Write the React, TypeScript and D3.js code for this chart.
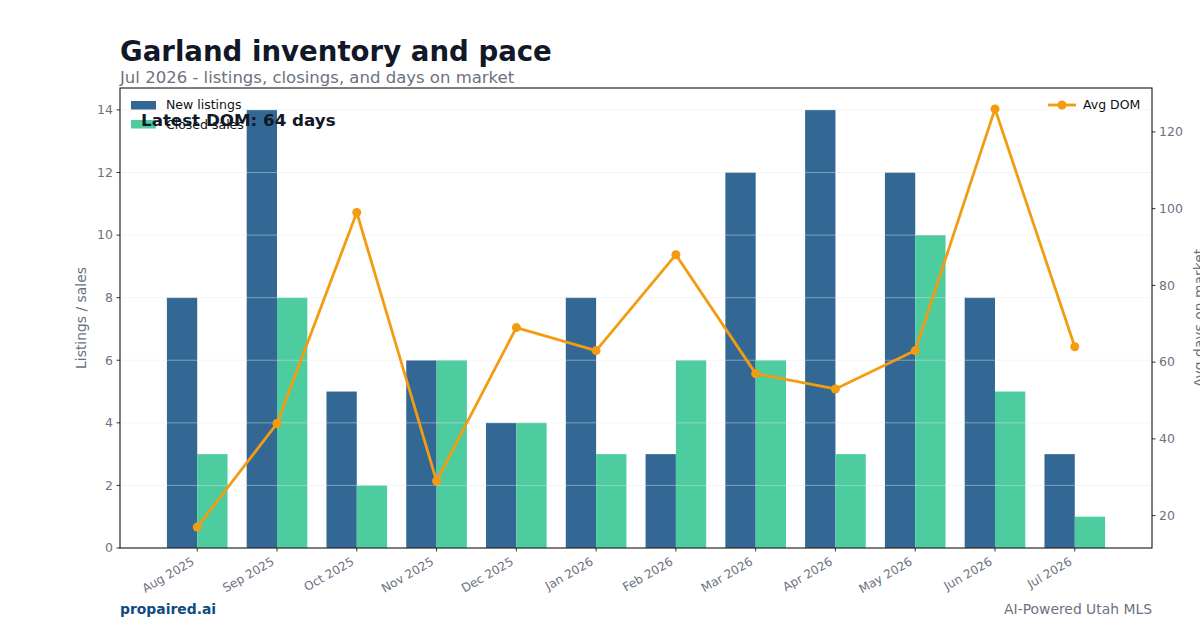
import * as d3 from "d3";

const months = [
  "Aug 2025", "Sep 2025", "Oct 2025", "Nov 2025", "Dec 2025", "Jan 2026",
  "Feb 2026", "Mar 2026", "Apr 2026", "May 2026", "Jun 2026", "Jul 2026",
];
const newListings = [8, 14, 5, 6, 4, 8, 3, 12, 14, 12, 8, 3];
const closedSales = [3, 8, 2, 6, 4, 3, 6, 6, 3, 10, 5, 1];
const avgDom = [17, 44, 99, 29, 69, 63, 88, 57, 53, 63, 126, 64];
const leftTicks = [0, 2, 4, 6, 8, 10, 12, 14];
const rightTicks = [20, 40, 60, 80, 100, 120];

const W = 1200;
const H = 630;
const left = 120;
const right = 1152;
const top = 88;
const bottom = 548;
const barW = 0.38;

const font = "'DejaVu Sans', sans-serif";
const gray = "#6b7280";
const blue = "#336895";
const green = "#4ccc9f";
const orange = "#f39c12";

export default function App() {
  // index scale with matplotlib-style 5% padding around the bars
  const span = months.length - 1 + 2 * barW;
  const pad = span * 0.05;
  const x = d3.scaleLinear()
    .domain([-barW - pad, months.length - 1 + barW + pad])
    .range([left, right]);

  const yMax = d3.max(newListings.concat(closedSales)) || 0;
  const y = d3.scaleLinear().domain([0, yMax * 1.05]).range([bottom, top]);

  const [dMin, dMax] = d3.extent(avgDom) as [number, number];
  const dPad = (dMax - dMin) * 0.05;
  const y2 = d3.scaleLinear().domain([dMin - dPad, dMax + dPad]).range([bottom, top]);

  const line = d3.line<number>()
    .x((_, i) => x(i))
    .y(d => y2(d));

  const latest = avgDom[avgDom.length - 1];

  return (
    <svg width={W} height={H} style={{ position: "absolute", left: 0, top: 0, background: "#fff" }} fontFamily={font}>
      <rect width={W} height={H} fill="#fff" />

      <text x={120} y={61} fontSize={27.6} fontWeight="bold" fill="#111827">Garland inventory and pace</text>
      <text x={120} y={83} fontSize={16.5} fill={gray}>Jul 2026 - listings, closings, and days on market</text>

      {/* bars */}
      {newListings.map((v, i) => (
        <rect key={"n" + i} x={x(i - barW)} y={y(v)} width={x(i) - x(i - barW)} height={bottom - y(v)} fill={blue} />
      ))}
      {closedSales.map((v, i) => (
        <rect key={"c" + i} x={x(i)} y={y(v)} width={x(i + barW) - x(i)} height={bottom - y(v)} fill={green} />
      ))}

      {/* horizontal grid */}
      {leftTicks.map(t => (
        <line key={"g" + t} x1={left} x2={right} y1={y(t)} y2={y(t)} stroke="#e5e7eb" strokeOpacity={0.55} strokeWidth={0.8} />
      ))}

      {/* DOM line */}
      <path d={line(avgDom) || ""} fill="none" stroke={orange} strokeWidth={2.8} strokeLinejoin="round" />
      {avgDom.map((v, i) => (
        <circle key={"p" + i} cx={x(i)} cy={y2(v)} r={4.5} fill={orange} />
      ))}

      {/* frame */}
      <rect x={left} y={top} width={right - left} height={bottom - top} fill="none" stroke="#000" strokeWidth={1} />

      {/* left axis */}
      {leftTicks.map(t => (
        <g key={"l" + t}>
          <line x1={left - 3.5} x2={left} y1={y(t)} y2={y(t)} stroke="#000" strokeWidth={0.8} />
          <text x={left - 7} y={y(t)} dy="0.35em" textAnchor="end" fontSize={12.5} fill={gray}>{t}</text>
        </g>
      ))}
      <text transform={`translate(86,318) rotate(-90)`} textAnchor="middle" fontSize={13.9} fill={gray}>Listings / sales</text>

      {/* right axis */}
      {rightTicks.map(t => (
        <g key={"r" + t}>
          <line x1={right} x2={right + 3.5} y1={y2(t)} y2={y2(t)} stroke="#000" strokeWidth={0.8} />
          <text x={right + 7} y={y2(t)} dy="0.35em" fontSize={12.5} fill={gray}>{t}</text>
        </g>
      ))}
      <text transform={`translate(1204,318) rotate(-90)`} textAnchor="middle" fontSize={13.9} fill={gray}>Avg days on market</text>

      {/* x axis */}
      {months.map((m, i) => (
        <g key={"x" + i}>
          <line x1={x(i)} x2={x(i)} y1={bottom} y2={bottom + 3.5} stroke="#000" strokeWidth={0.8} />
          <text transform={`translate(${x(i) - 2},${bottom + 16}) rotate(-30)`} textAnchor="end" fontSize={12} fill={gray}>{m}</text>
        </g>
      ))}

      {/* legends */}
      <rect x={131} y={101} width={25} height={8.5} fill={blue} />
      <text x={166} y={105} dy="0.35em" fontSize={12.5} fill="#111">New listings</text>
      <rect x={131} y={120} width={25} height={8.5} fill={green} />
      <text x={166} y={125} dy="0.35em" fontSize={12.5} fill="#111">Closed sales</text>

      <line x1={1048} x2={1076} y1={105} y2={105} stroke={orange} strokeWidth={2.8} />
      <circle cx={1062} cy={105} r={4.5} fill={orange} />
      <text x={1083} y={105} dy="0.35em" fontSize={12.5} fill="#111">Avg DOM</text>

      <text x={141} y={126} fontSize={16.7} fontWeight="bold" fill="#111827">{`Latest DOM: ${latest} days`}</text>

      {/* footer */}
      <text x={120} y={614} fontSize={13.9} fontWeight="bold" fill="#0f4c81">propaired.ai</text>
      <text x={1152} y={614} textAnchor="end" fontSize={13.9} fill={gray}>AI-Powered Utah MLS</text>
    </svg>
  );
}
